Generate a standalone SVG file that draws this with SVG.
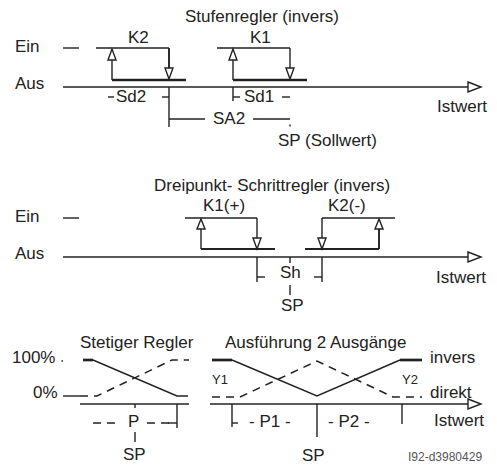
<svg xmlns="http://www.w3.org/2000/svg" width="497" height="466" viewBox="0 0 497 466">
<style>
text { font-family: "Liberation Sans", Arial, Helvetica, sans-serif; fill: #222; font-size: 17px; }
.sm { font-size: 13px; }
.id { font-size: 12px; fill: #555; }
.ln { stroke: #222; stroke-width: 1.4; fill: none; }
.md { stroke: #222; stroke-width: 1.9; fill: none; }
.thk { stroke: #222; stroke-width: 2.7; fill: none; }
.dsh { stroke: #222; stroke-width: 1.5; fill: none; stroke-dasharray: 8 6; }
.tri { fill: #fff; stroke: #222; stroke-width: 1.4; }
</style>
<rect width="497" height="466" fill="#fff"/>

<!-- Section 1: Stufenregler -->
<g id="stufen-labels">
  <text x="185" y="22">Stufenregler (invers)</text>
  <text x="15" y="52">Ein</text>
  <text x="15" y="89">Aus</text>
  <text x="128" y="43" font-size="16">K2</text>
  <text x="250" y="43" font-size="16">K1</text>
  <text x="116" y="102">Sd2</text>
  <text x="244" y="102">Sd1</text>
  <text x="213" y="124">SA2</text>
  <text x="278" y="146">SP (Sollwert)</text>
  <text x="437" y="112">Istwert</text>
</g>
<g id="stufen-k2">
  <line class="ln" x1="96" y1="48" x2="169" y2="48"/>
  <line class="ln" x1="112" y1="60" x2="112" y2="80"/>
  <polygon class="tri" points="112,49 108,60 116,60"/>
  <line class="md" x1="169" y1="48" x2="169" y2="68"/>
  <polygon class="tri" points="165,68 173,68 169,79"/>
  <line class="thk" x1="112" y1="80" x2="186" y2="80"/>
</g>
<g id="stufen-k1">
  <line class="ln" x1="217" y1="48" x2="290" y2="48"/>
  <line class="ln" x1="233" y1="60" x2="233" y2="80"/>
  <polygon class="tri" points="233,49 229,60 237,60"/>
  <line class="ln" x1="290" y1="48" x2="290" y2="68"/>
  <polygon class="tri" points="286,68 294,68 290,79"/>
  <line class="thk" x1="233" y1="80" x2="307" y2="80"/>
</g>
<g id="stufen-axis">
  <line class="ln" x1="63" y1="48" x2="79" y2="48"/>
  <line class="ln" x1="63" y1="87" x2="468" y2="87"/>
  <polygon class="tri" points="468,82 481,87 468,92"/>
  <line class="ln" x1="169" y1="87" x2="169" y2="127"/>
  <line class="ln" x1="108" y1="97" x2="114" y2="97"/>
  <line class="ln" x1="162" y1="97" x2="169" y2="97"/>
  <line class="ln" x1="233" y1="87" x2="233" y2="101"/>
  <line class="ln" x1="233" y1="97" x2="240" y2="97"/>
  <line class="ln" x1="282" y1="97" x2="290" y2="97"/>
  <line class="ln" x1="169" y1="119" x2="205" y2="119"/>
  <line class="ln" x1="253" y1="119" x2="290" y2="119"/>
  <line class="ln" x1="290" y1="124.5" x2="290" y2="126.5"/>
</g>

<!-- Section 2: Dreipunkt-Schrittregler -->
<g id="dreipunkt-labels">
  <text x="154" y="191">Dreipunkt- Schrittregler (invers)</text>
  <text x="15" y="222">Ein</text>
  <text x="15" y="259">Aus</text>
  <text x="203" y="211" font-size="15.5">K1(+)</text>
  <text x="328" y="211" font-size="15.5">K2(-)</text>
  <text x="280" y="278">Sh</text>
  <text x="281" y="311">SP</text>
  <text x="436" y="283">Istwert</text>
</g>
<g id="dreipunkt-k1">
  <line class="ln" x1="185" y1="218" x2="257" y2="218"/>
  <line class="ln" x1="201" y1="229" x2="201" y2="249"/>
  <polygon class="tri" points="201,219 197,229 205,229"/>
  <line class="ln" x1="257" y1="218" x2="257" y2="238"/>
  <polygon class="tri" points="253,238 261,238 257,249"/>
  <line class="md" x1="201" y1="249" x2="275" y2="249"/>
</g>
<g id="dreipunkt-k2">
  <line class="ln" x1="322" y1="218" x2="395" y2="218"/>
  <line class="ln" x1="322" y1="218" x2="322" y2="238"/>
  <polygon class="tri" points="318,238 326,238 322,249"/>
  <line class="md" x1="305" y1="249" x2="379" y2="249"/>
  <line class="md" x1="379" y1="249" x2="379" y2="229"/>
  <polygon class="tri" points="379,219 375,229 383,229"/>
</g>
<g id="dreipunkt-axis">
  <line class="ln" x1="63" y1="218" x2="79" y2="218"/>
  <line class="ln" x1="63" y1="257" x2="468" y2="257"/>
  <polygon class="tri" points="468,252 481,257 468,262"/>
  <line class="ln" x1="257" y1="257" x2="257" y2="282"/>
  <line class="ln" x1="257" y1="277" x2="265" y2="277"/>
  <line class="ln" x1="322" y1="257" x2="322" y2="282"/>
  <line class="ln" x1="314" y1="277" x2="322" y2="277"/>
  <line class="ln" x1="290" y1="257" x2="290" y2="263"/>
  <line class="ln" x1="290" y1="285" x2="290" y2="295"/>
</g>

<!-- Section 3: Stetiger Regler -->
<g id="stetig-labels">
  <text x="80" y="348">Stetiger Regler</text>
  <text x="12" y="363">100%</text>
  <text x="33" y="398">0%</text>
  <text x="128" y="427">P</text>
  <text x="123" y="460">SP</text>
</g>
<g id="stetig-curves">
  <line class="ln" x1="61.5" y1="361" x2="63" y2="361"/>
  <line class="ln" x1="63" y1="396" x2="80" y2="396"/>
  <line class="ln" x1="80" y1="404" x2="189" y2="404"/>
  <line class="thk" x1="83" y1="360" x2="93" y2="360"/>
  <polyline class="ln" points="93,360 177,396 188,396"/>
  <polyline class="dsh" points="80,396 97,396 172,360 189,360"/>
  <line class="ln" x1="135" y1="404" x2="135" y2="408"/>
  <line class="ln" x1="135" y1="432" x2="135" y2="442"/>
  <line class="dsh" x1="93" y1="423" x2="121" y2="423" stroke-dasharray="6 8"/>
  <line class="dsh" x1="147" y1="423" x2="170" y2="423" stroke-dasharray="6 14"/>
  <line class="ln" x1="177" y1="404" x2="177" y2="428"/>
  <line class="ln" x1="168" y1="423" x2="177" y2="423"/>
</g>

<!-- Section 4: Ausfuehrung 2 Ausgaenge -->
<g id="zwei-labels">
  <text x="225" y="348">Ausführung 2 Ausgänge</text>
  <text class="sm" x="212" y="384">Y1</text>
  <text class="sm" x="402" y="384">Y2</text>
  <text x="430" y="363">invers</text>
  <text x="430" y="398">direkt</text>
  <text x="249" y="427">- P1 -</text>
  <text x="328" y="427">- P2 -</text>
  <text x="302" y="461">SP</text>
  <text x="434" y="426">Istwert</text>
  <text class="id" x="408" y="461">I92-d3980429</text>
</g>
<g id="zwei-curves">
  <line class="ln" x1="210" y1="404" x2="468" y2="404"/>
  <polygon class="tri" points="468,399 481,404 468,409"/>
  <line class="thk" x1="212" y1="360" x2="232" y2="360"/>
  <polyline class="ln" points="232,360 317,396 400,360"/>
  <line class="thk" x1="400" y1="360" x2="422" y2="360"/>
  <polyline class="dsh" points="212,397 240,397 317,361 393,397 422,397"/>
  <line class="ln" x1="232" y1="404" x2="232" y2="427"/>
  <line class="ln" x1="232" y1="423" x2="238" y2="423"/>
  <line class="ln" x1="317" y1="404" x2="317" y2="437"/>
  <line class="ln" x1="402" y1="404" x2="402" y2="424"/>
</g>
</svg>
